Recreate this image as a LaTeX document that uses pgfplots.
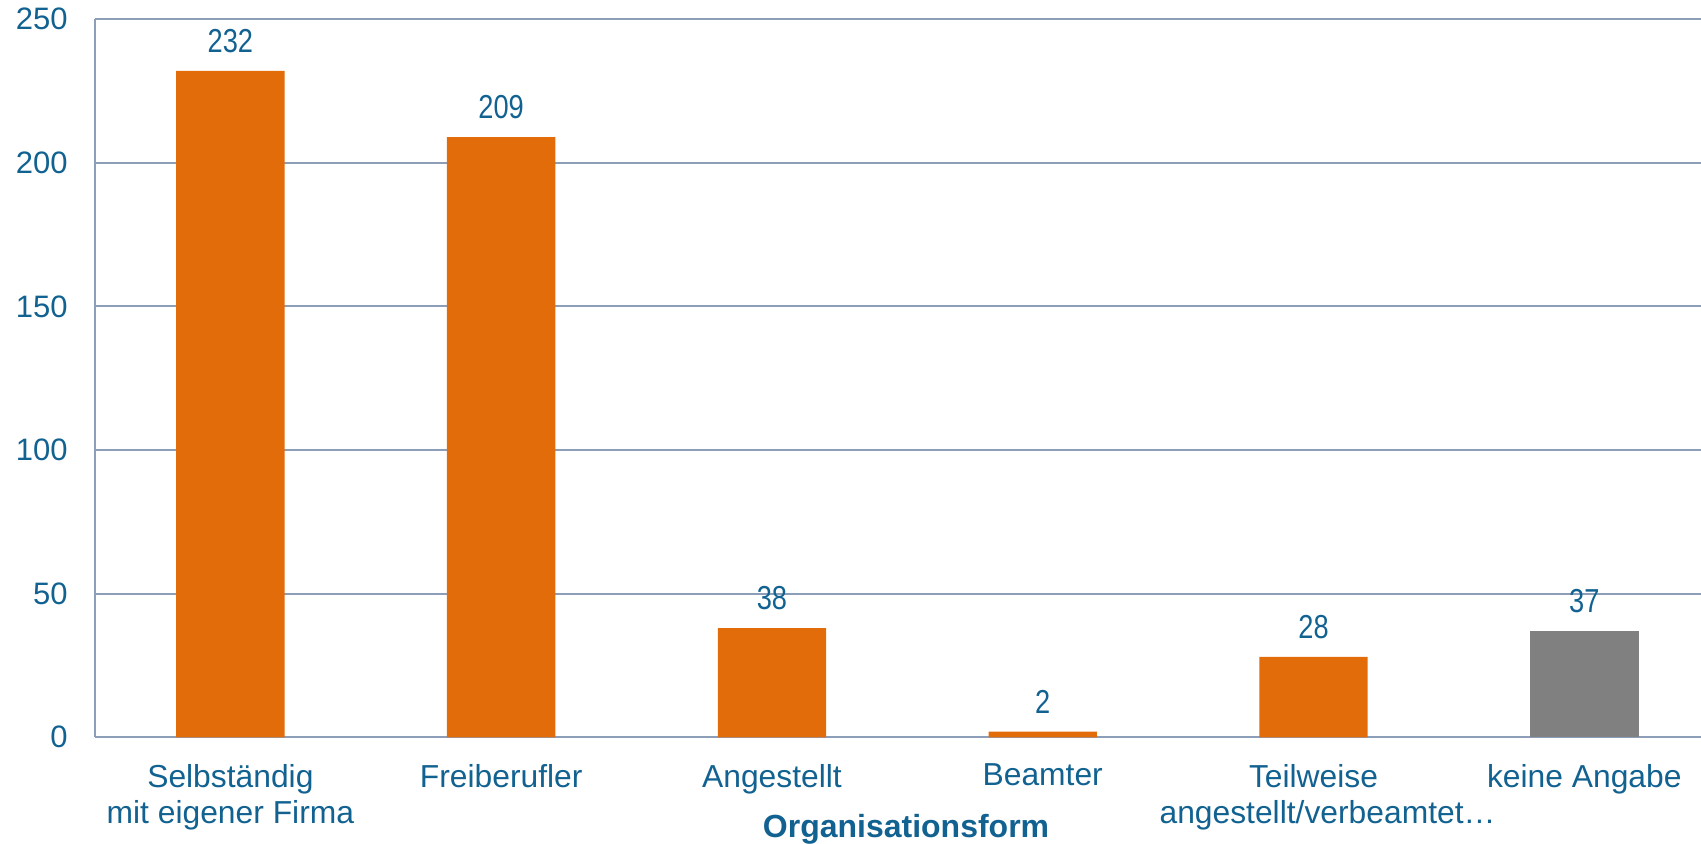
\documentclass[border=0pt]{standalone}
\usepackage{fontspec}
\setmainfont{Liberation Sans}
\newfontfamily\narrowfont[FakeStretch=0.82]{Liberation Sans}
\usepackage{pgfplots}
\pgfplotsset{compat=1.18}
\definecolor{txtblue}{RGB}{18,98,145}
\definecolor{barorange}{RGB}{227,108,10}
\definecolor{bargray}{RGB}{128,128,128}
\definecolor{gridc}{RGB}{141,158,184}
\begin{document}
\begin{tikzpicture}
\begin{axis}[
  at={(47.5pt,53.35pt)}, anchor=south west,
  scale only axis,
  width=803pt, height=359pt,
  ybar,
  bar width=54.2pt,
  xmin=-0.5, xmax=5.431,
  ymin=0, ymax=250,
  enlargelimits=false,
  ytick={0,50,100,150,200,250},
  xtick={0,1,2,3,4,5},
  xticklabels={{Selbständig\\mit eigener Firma},Freiberufler,Angestellt,Beamter,{Teilweise\\\hspace*{14pt}angestellt/verbeamtet…},keine Angabe},
  major tick length=0pt,
  axis x line*=bottom,
  axis y line*=left,
  axis line style={color=gridc, line width=1pt},
  ymajorgrids,
  grid style={color=gridc, line width=1pt},
  /pgf/number format/assume math mode=true,
  yticklabel style={font=\fontsize{15.5}{18}\selectfont, text=txtblue, anchor=east, inner sep=0pt, xshift=-13.5pt},
  xticklabel style={font=\fontsize{15.9}{18.3}\selectfont, text=txtblue, align=center, anchor=north, inner sep=0pt, yshift=-13.2pt},
  xlabel={Organisationsform},
  xlabel style={font=\fontsize{16}{18}\selectfont\bfseries, text=txtblue, at={(axis description cs:0.505,0)}, anchor=base, inner sep=0pt, yshift=-50pt},
  nodes near coords,
  nodes near coords style={font=\narrowfont\fontsize{16.6}{18}\selectfont, text=txtblue, anchor=south, inner sep=0pt, yshift=8.85pt},
]
\addplot[fill=barorange, draw=none, bar shift=0pt] coordinates {(0,232) (1,209) (2,38) (3,2) (4,28)};
\addplot[fill=bargray, draw=none, bar shift=0pt] coordinates {(5,37)};
\end{axis}
\pgfresetboundingbox
\useasboundingbox (0,0) rectangle (850.5pt,422pt);
\end{tikzpicture}
\end{document}
